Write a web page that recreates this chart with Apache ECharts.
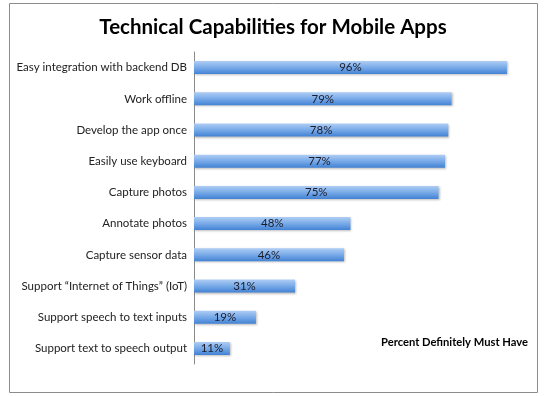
<!DOCTYPE html>
<html>
<head>
<meta charset="utf-8">
<script src="https://cdn.jsdelivr.net/npm/echarts@6/dist/echarts.min.js"></script>
<style>
  html, body { margin: 0; padding: 0; background: #fff; }
  #chart { width: 546px; height: 396px; }
</style>
</head>
<body>
<div id="chart"></div>
<script>
// categories top to bottom, as in the picture
var capabilities = [
    'Easy integration with backend DB',
    'Work offline',
    'Develop the app once',
    'Easily use keyboard',
    'Capture photos',
    'Annotate photos',
    'Capture sensor data',
    'Support \u201cInternet of Things\u201d (IoT)',
    'Support speech to text inputs',
    'Support text to speech output'
];
var mustHave = [96, 79, 78, 77, 75, 48, 46, 31, 19, 11];

var chart = echarts.init(document.getElementById('chart'));

var option = {
    animation: false,
    title: [
        {
            text: 'Technical Capabilities for Mobile Apps',
            left: 'center',
            top: 12,
            textStyle: {
                fontFamily: 'Lato',
                fontWeight: 'bold',
                fontSize: 20.5,
                color: '#000'
            }
        },
        {
            text: 'Percent Definitely Must Have',
            right: 13,
            top: 332,
            textStyle: {
                fontFamily: 'Lato',
                fontWeight: 'bold',
                fontSize: 11.2,
                color: '#000'
            }
        }
    ],
    graphic: [
        {
            type: 'rect',
            shape: { x: 9.5, y: 3.5, width: 528, height: 389 },
            style: { fill: 'none', stroke: '#8c8c8c', lineWidth: 1 },
            silent: true
        }
    ],
    grid: {
        left: 194,
        right: 26,
        top: 52,
        bottom: 32
    },
    xAxis: {
        type: 'value',
        min: 0,
        max: 100,
        show: false
    },
    yAxis: {
        type: 'category',
        inverse: true,
        data: capabilities,
        axisLine: { lineStyle: { color: '#8a8a8a', width: 1 } },
        axisTick: { length: 5, lineStyle: { color: '#8a8a8a' } },
        axisLabel: {
            fontFamily: 'Lato',
            fontSize: 11.5,
            color: '#222',
            margin: 7
        }
    },
    series: [
        {
            type: 'bar',
            data: mustHave,
            barWidth: 13,
            itemStyle: {
                color: new echarts.graphic.LinearGradient(0, 0, 0, 1, [
                    { offset: 0, color: '#aecdf4' },
                    { offset: 0.5, color: '#78aae8' },
                    { offset: 1, color: '#4282d4' }
                ]),
                shadowColor: 'rgba(0,0,0,0.25)',
                shadowBlur: 2,
                shadowOffsetX: 1,
                shadowOffsetY: 1
            },
            label: {
                show: true,
                position: 'inside',
                formatter: '{c}%',
                fontFamily: 'Lato',
                fontSize: 11.5,
                color: '#1c1c2a'
            }
        }
    ]
};

chart.setOption(option);
</script>
</body>
</html>
